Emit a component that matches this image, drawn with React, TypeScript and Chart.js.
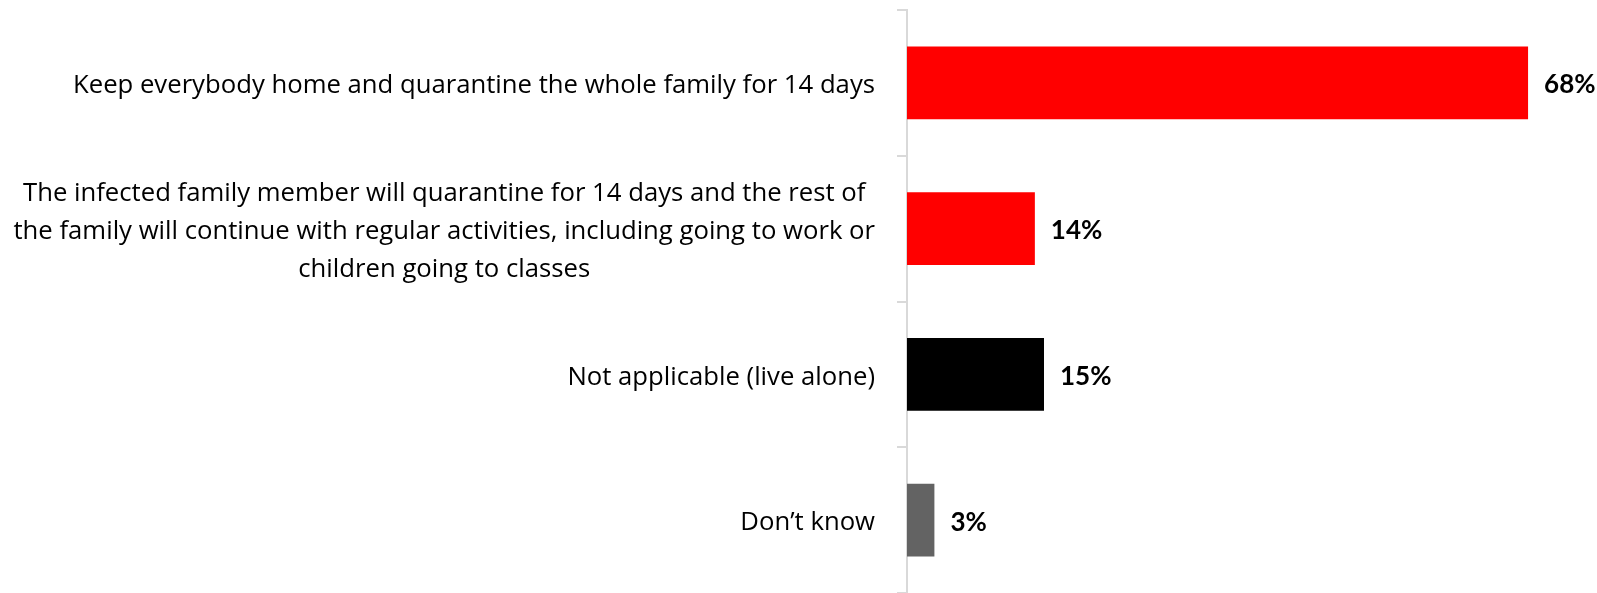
import React, { useEffect, useRef } from 'react';
import { Chart, registerables } from 'chart.js';

Chart.register(...registerables);

const categories: string[][] = [
  ['Keep everybody home and quarantine the whole family for 14 days'],
  [
    'The infected family member will quarantine for 14 days and the rest of',
    'the family will continue with regular activities, including going to work or',
    'children going to classes',
  ],
  ['Not applicable (live alone)'],
  ['Don\u2019t know'],
];
const values: number[] = [68, 14, 15, 3];
const valueLabels: string[] = ['68%', '14%', '15%', '3%'];
const barColors: string[] = ['#FF0000', '#FF0000', '#000000', '#636363'];

const LABEL_FONT = '"Open Sans", Lato, sans-serif';
const VALUE_FONT = 'Lato, "Open Sans", sans-serif';
const LABEL_SIZE = 25.7;
const LINE_H = 38.3;
const VALUE_SIZE = 26;
const TEXT_DY = 3;

const labelPlugin = {
  id: 'customLabels',
  afterDraw(chart: any) {
    const ctx = chart.ctx;
    const yScale = chart.scales.y;
    const labelRight = yScale.right - 32;
    ctx.save();
    ctx.fillStyle = '#000000';
    ctx.textBaseline = 'middle';
    ctx.font = `${LABEL_SIZE}px ${LABEL_FONT}`;
    ctx.textAlign = 'center';
    categories.forEach((lines, i) => {
      const cy = yScale.getPixelForValue(i) + TEXT_DY;
      const w = Math.max(...lines.map((l) => ctx.measureText(l).width));
      const cx = labelRight - w / 2;
      lines.forEach((l, j) => {
        const y = cy + (j - (lines.length - 1) / 2) * LINE_H;
        ctx.fillText(l, cx, y);
      });
    });
    const meta = chart.getDatasetMeta(0);
    ctx.font = `bold ${VALUE_SIZE}px ${VALUE_FONT}`;
    ctx.textAlign = 'left';
    meta.data.forEach((bar: any, i: number) => {
      ctx.fillText(valueLabels[i], bar.x + 16, bar.y + 2);
    });
    ctx.restore();
  },
};

export default function App() {
  const ref = useRef<HTMLCanvasElement | null>(null);
  useEffect(() => {
    document.body.style.margin = '0';
    document.body.style.overflow = 'hidden';
    if (!ref.current) return;
    const chart = new Chart(ref.current, {
      type: 'bar',
      data: {
        labels: categories.map((c) => c.join(' ')),
        datasets: [
          {
            data: values,
            backgroundColor: barColors,
            borderWidth: 0,
            barPercentage: 0.5,
            categoryPercentage: 1,
          },
        ],
      },
      options: {
        indexAxis: 'y',
        responsive: false,
        animation: false,
        layout: { padding: { top: 10, bottom: -4, left: 0, right: 5 } },
        plugins: {
          legend: { display: false },
          tooltip: { enabled: false },
        },
        scales: {
          x: { display: false, min: 0, max: 75 },
          y: {
            afterFit: (s: any) => {
              s.width = 907;
            },
            ticks: { display: false },
            grid: {
              display: true,
              drawOnChartArea: false,
              drawTicks: true,
              tickLength: 10,
              color: '#d9d9d9',
              lineWidth: 2,
              offset: true,
            },
            border: { display: true, color: '#d9d9d9', width: 2 },
          },
        },
      },
      plugins: [labelPlugin],
    });
    return () => chart.destroy();
  }, []);
  return (
    <div style={{ width: 1597, height: 593 }}>
      <canvas ref={ref} width={1597} height={593} style={{ display: 'block' }} />
    </div>
  );
}
